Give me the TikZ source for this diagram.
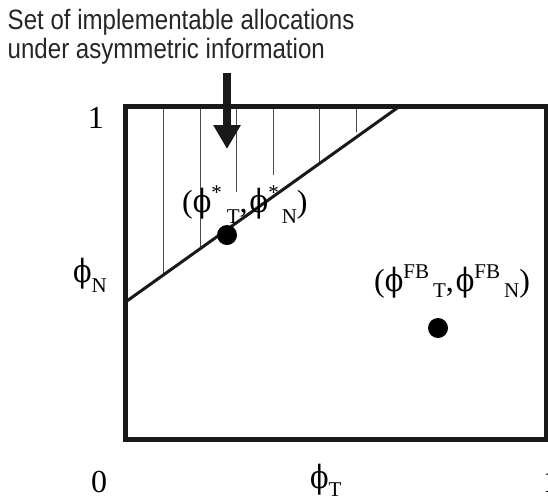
\documentclass[tikz,border=0pt]{standalone}
\usepackage{fontspec}
\setmainfont{Liberation Serif}
\newfontfamily\capfont[FakeStretch=0.86]{Liberation Sans}
\newfontfamily\phifont[FakeStretch=0.85]{DejaVu Serif}
\usepackage{tikz}
\usetikzlibrary{arrows.meta,positioning}
\newcommand{\ph}{{\phifont ϕ}}
\newcommand{\up}[1]{\raisebox{13pt}{\fontsize{21}{21}\selectfont #1}}
\newcommand{\dn}[2][-9pt]{\raisebox{#1}{\fontsize{21}{21}\selectfont #2}}
\tikzset{
  frame/.style={line width=5pt, draw=black!90},
  bound/.style={line width=3pt, draw=black!90},
  hatch/.style={line width=0.9pt, draw=black!70},
  lbl/.style={inner sep=0pt, font=\fontsize{32}{32}\selectfont},
  captext/.style={inner sep=0pt, anchor=base west, font=\capfont\fontsize{28}{28}\selectfont, text=black!85},
  alloc/.style={circle, fill=black, inner sep=0pt, minimum size=20pt},
  pointer/.style={-{Triangle[length=24pt,width=26pt]}, line width=7.3pt, draw=black!90},
}

\begin{document}
\begin{tikzpicture}[x=1pt,y=-1pt]
  \useasboundingbox (0,0) rectangle (548,501);
  % caption and pointer
  \node[captext] (cap1) at (7.5,29) {Set of implementable allocations};
  \node[captext] (cap2) at (7.5,58) {under asymmetric information};
  \coordinate (arrtop) at (227,73);
  \coordinate (arrtip) at (227,149);
  % hatching of the implementable set
  \foreach \hx/\hy in {163/275, 200/248, 236/192, 273/175, 319/162, 356/132}
    \draw[hatch] (\hx,106) -- (\hx,\hy);
  \coordinate (dl) at (125.5,302);
  \coordinate (dr) at (400,106);
  \draw[bound] (dl) -- (dr);
  \draw[frame] (125.5,106) rectangle (546,439.5);
  \draw[pointer] (arrtop) -- (arrtip);
  % axis labels
  \node[lbl, anchor=base east] (one)  at (104,128) {1};
  \node[lbl, anchor=base]      (zero) at (99,492) {0};
  \node[lbl, anchor=base west] (onex) at (543,492) {1};
  \node[lbl, anchor=base west] (phit) at (310,488) {\ph\dn[-8pt]{T}};
  \node[lbl, anchor=base east] (phin) at (107,282) {\ph\dn[-10pt]{N}};
  % the two allocations
  \node[alloc] (star) at (227,235) {};
  \node[alloc] (fb)   at (438,328) {};
  \node[lbl, anchor=base west] (starlbl) at (182,212)
    {(\ph\up{*}\kern5pt\dn[-11pt]{T},\kern2pt\ph\up{*}\kern3pt\dn[-11pt]{N})};
  \node[lbl, anchor=base west] (fblbl)   at (374,291)
    {(\ph\up{FB}\kern4pt\dn[-6pt]{T},\kern2pt\ph\up{FB}\kern4pt\dn[-6pt]{N})};
\end{tikzpicture}
\end{document}
